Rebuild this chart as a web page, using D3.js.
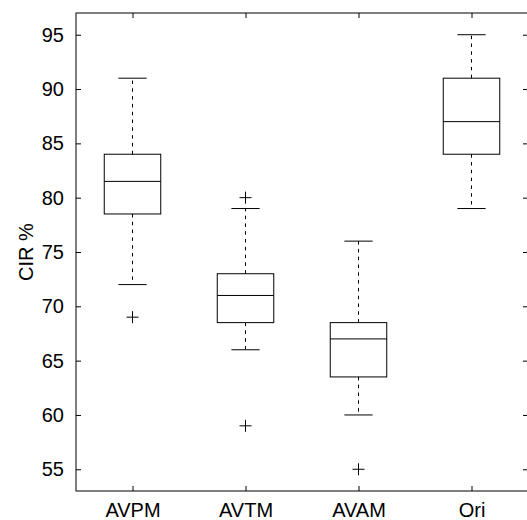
<!DOCTYPE html>
<html>
<head>
<meta charset="utf-8">
<script src="https://cdn.jsdelivr.net/npm/d3@7"></script>
<style>
  html, body { margin: 0; padding: 0; background: #fff; }
  svg { display: block; }
  text { font-family: "Liberation Sans", Arial, Helvetica, sans-serif; fill: #000; }
</style>
</head>
<body>
<svg id="chart" width="527" height="520"></svg>
<script>
// ---- data ----
const categories = ["AVPM", "AVTM", "AVAM", "Ori"];
const whiskerLow = [72, 66, 60, 79];
const q1 = [78.5, 68.5, 63.5, 84];
const medians = [81.5, 71, 67, 87];
const q3 = [84, 73, 68.5, 91];
const whiskerHigh = [91, 79, 76, 95];
const outliers = [[69], [80, 59], [55], []];
const yTicks = [55, 60, 65, 70, 75, 80, 85, 90, 95];
const yLabel = "CIR %";

// ---- layout ----
const svg = d3.select("#chart");
const mLeft = 76, mRight = 528, mTop = 13, mBottom = 491;

const x = d3.scaleLinear().domain([0.5, categories.length + 0.5]).range([mLeft, mRight]);
const y = d3.scaleLinear().domain([53, 97]).range([mBottom, mTop]);
const boxHalf = 0.25, capHalf = 0.125;
const tickLen = 5;

const g = svg.append("g");

// frame
g.append("rect").attr("x", mLeft).attr("y", mTop)
  .attr("width", mRight - mLeft).attr("height", mBottom - mTop)
  .attr("fill", "none").attr("stroke", "#000").attr("stroke-width", 1);

// left axis ticks + labels
const yAxisL = d3.axisLeft(y).tickValues(yTicks).tickSizeInner(-tickLen).tickSizeOuter(0).tickPadding(12);
const gl = g.append("g").attr("transform", `translate(${mLeft},0)`).call(yAxisL);
gl.select(".domain").remove();
gl.selectAll("text").style("font-size", "20px").attr("font-family", null);

// right ticks
const yAxisR = d3.axisRight(y).tickValues(yTicks).tickSizeInner(-tickLen).tickSizeOuter(0).tickFormat("");
const gr = g.append("g").attr("transform", `translate(${mRight},0)`).call(yAxisR);
gr.select(".domain").remove();

// bottom axis
const xAxisB = d3.axisBottom(x).tickValues(categories.map((c, i) => i + 1))
  .tickFormat((d) => categories[d - 1]).tickSizeInner(-tickLen).tickSizeOuter(0).tickPadding(12);
const gb = g.append("g").attr("transform", `translate(0,${mBottom})`).call(xAxisB);
gb.select(".domain").remove();
gb.selectAll("text").style("font-size", "20px").attr("font-family", null);

// top ticks
const xAxisT = d3.axisTop(x).tickValues(categories.map((c, i) => i + 1))
  .tickFormat("").tickSizeInner(-tickLen).tickSizeOuter(0);
const gt = g.append("g").attr("transform", `translate(0,${mTop})`).call(xAxisT);
gt.select(".domain").remove();

// y label
g.append("text").attr("transform", `translate(33,${(mTop + mBottom) / 2}) rotate(-90)`)
  .attr("text-anchor", "middle").style("font-size", "20px").text(yLabel);

// boxes
categories.forEach((c, i) => {
  const cx = i + 1;
  const bg = g.append("g").attr("stroke", "#000").attr("stroke-width", 1).attr("fill", "none");
  bg.append("line").attr("x1", x(cx)).attr("x2", x(cx)).attr("y1", y(q3[i])).attr("y2", y(whiskerHigh[i]))
    .attr("stroke-dasharray", "3.5,4.3");
  bg.append("line").attr("x1", x(cx)).attr("x2", x(cx)).attr("y1", y(q1[i])).attr("y2", y(whiskerLow[i]))
    .attr("stroke-dasharray", "3.5,4.3");
  bg.append("line").attr("x1", x(cx - capHalf)).attr("x2", x(cx + capHalf)).attr("y1", y(whiskerHigh[i])).attr("y2", y(whiskerHigh[i]));
  bg.append("line").attr("x1", x(cx - capHalf)).attr("x2", x(cx + capHalf)).attr("y1", y(whiskerLow[i])).attr("y2", y(whiskerLow[i]));
  bg.append("rect").attr("x", x(cx - boxHalf)).attr("y", y(q3[i]))
    .attr("width", x(cx + boxHalf) - x(cx - boxHalf)).attr("height", y(q1[i]) - y(q3[i]));
  bg.append("line").attr("x1", x(cx - boxHalf)).attr("x2", x(cx + boxHalf)).attr("y1", y(medians[i])).attr("y2", y(medians[i]));
  outliers[i].forEach((v) => {
    bg.append("line").attr("x1", x(cx) - 6).attr("x2", x(cx) + 6).attr("y1", y(v)).attr("y2", y(v));
    bg.append("line").attr("x1", x(cx)).attr("x2", x(cx)).attr("y1", y(v) - 6).attr("y2", y(v) + 6);
  });
});
</script>
</body>
</html>
